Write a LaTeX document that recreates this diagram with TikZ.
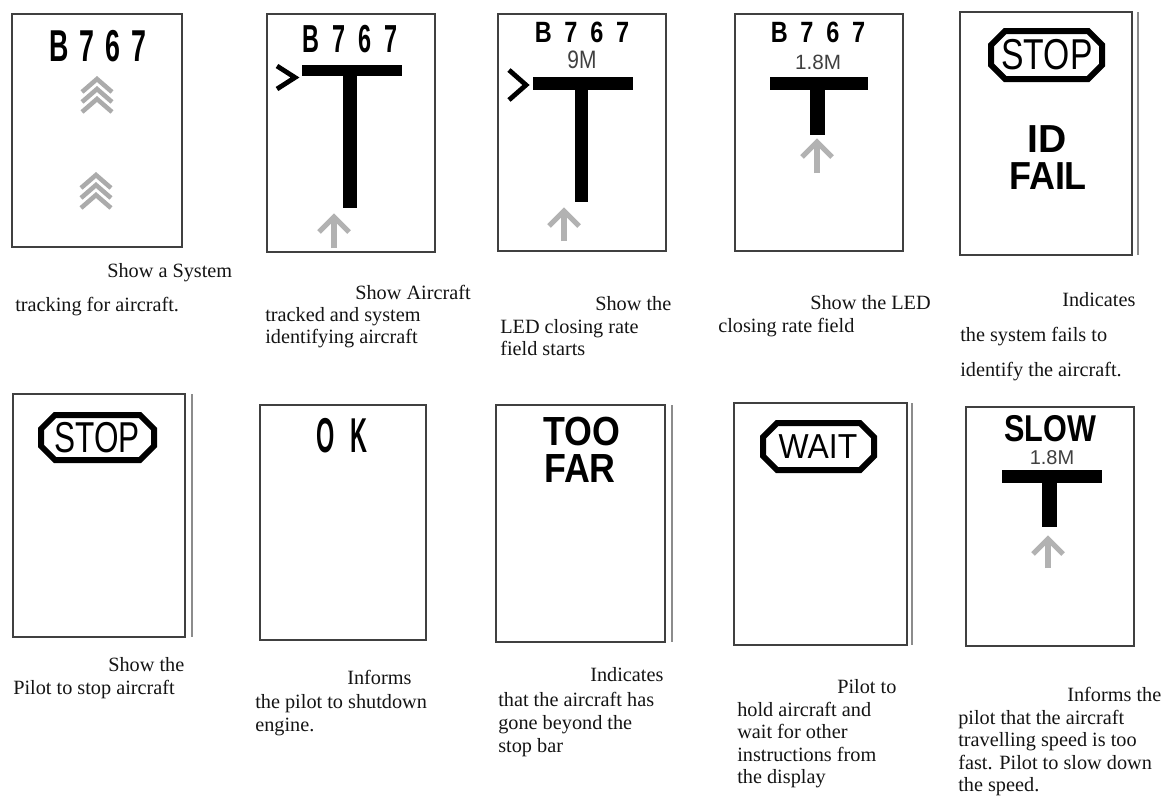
\documentclass[tikz,border=0pt]{standalone}
\usepackage{fontspec}
\usepackage{graphicx}
\setmainfont{Liberation Serif}
\newfontfamily\arialfont{Liberation Sans}
\begin{document}
\begin{tikzpicture}[x=0.75pt,y=-0.75pt,
  panelframe/.style={draw=black!75, line width=1.6pt},
  sidebar/.style={draw=black!45, line width=1.5pt},
  grayarrow/.style={draw=black!30, line width=3.8pt},
  chevgray/.style={draw=black!33, line width=3.4pt},
  blackchev/.style={draw=black, line width=3.6pt},
  tbar/.style={fill=black},
  octo/.style={draw=black, line width=4.5pt, line join=miter},
  signtxt/.style={inner sep=0pt, text=black, font=\arialfont},
  captxt/.style={anchor=base west, inner sep=0pt, text=black!92, font=\fontsize{15.2}{17}\selectfont}]
\useasboundingbox (0,0) rectangle (1165,796);
\fill[white] (0,0) rectangle (1165,796);

% ---------- frames ----------
\draw[panelframe] (12,14) rectangle (182,247);
\draw[panelframe] (267,14) rectangle (435,252);
\draw[panelframe] (498,14) rectangle (666,251);
\draw[panelframe] (735,14) rectangle (903,251);
\draw[panelframe] (960,12) rectangle (1132,255);
\draw[sidebar] (1138,12) -- (1138,255);
\draw[panelframe] (13,394) rectangle (185,637);
\draw[sidebar] (192,394) -- (192,637);
\draw[panelframe] (260,405) rectangle (426,640);
\draw[panelframe] (496,405) rectangle (665,642);
\draw[sidebar] (672,405) -- (672,642);
\draw[panelframe] (734,403) rectangle (907,645);
\draw[sidebar] (912,403) -- (912,645);
\draw[panelframe] (966,407) rectangle (1134,646);

% ---------- panel 1 ----------
\node[signtxt] (p1t) at (98,46) {\scalebox{0.6}[1]{\fontsize{33.5}{34}\selectfont\bfseries B\kern14pt 7\kern14pt 6\kern14pt 7}};
\foreach \yy in {79,89,99} \draw[chevgray] (82,\yy+13) -- (97,\yy) -- (112,\yy+13);
\foreach \yy in {175,185,195} \draw[chevgray] (81,\yy+13) -- (96,\yy) -- (111,\yy+13);

% ---------- panel 2 ----------
\node[signtxt] (p2t) at (350,39) {\scalebox{0.6}[1]{\fontsize{29.3}{30}\selectfont\bfseries B\kern16pt 7\kern16pt 6\kern16pt 7}};
\draw[blackchev] (277,66) -- (295,77.5) -- (277,89);
\fill[tbar] (302,65) rectangle (402,76);
\fill[tbar] (343,76) rectangle (357,208);
\draw[grayarrow] (334,248) -- (334,219);
\draw[grayarrow] (319,232) -- (334,217) -- (349,232);

% ---------- panel 3 ----------
\node[signtxt] (p3t) at (582,32) {\scalebox{0.8}[1]{\fontsize{22}{23}\selectfont\bfseries B\kern12pt 7\kern12pt 6\kern12pt 7}};
\node[signtxt, text=black!75] (p3d) at (582,60) {\scalebox{0.83}[1]{\fontsize{18.9}{19}\selectfont 9M}};
\draw[blackchev] (509,70) -- (526,85) -- (509,100);
\fill[tbar] (533,77) rectangle (633,90);
\fill[tbar] (575,90) rectangle (588,202);
\draw[grayarrow] (564,241) -- (564,213);
\draw[grayarrow] (549,226) -- (564,211) -- (579,226);

% ---------- panel 4 ----------
\node[signtxt] (p4t) at (818,32) {\scalebox{0.8}[1]{\fontsize{22}{23}\selectfont\bfseries B\kern12pt 7\kern12pt 6\kern12pt 7}};
\node[signtxt, text=black!75] (p4d) at (818,62) {\fontsize{15.5}{16}\selectfont 1.8M};
\fill[tbar] (770,77) rectangle (868,90);
\fill[tbar] (810,90) rectangle (825,135);
\draw[grayarrow] (817,173) -- (817,144);
\draw[grayarrow] (802,157) -- (817,142) -- (832,157);

% ---------- panel 5 ----------
\draw[octo] (1005,31) -- (1088,31) -- (1102,45) -- (1102,65) -- (1088,79) -- (1005,79) -- (991,65) -- (991,45) -- cycle;
\node[signtxt] (p5s) at (1047,55) {\scalebox{0.78}[1]{\fontsize{32.4}{33}\selectfont STOP}};
\node[signtxt] (p5a) at (1047,139) {\fontsize{29.3}{30}\selectfont\bfseries ID};
\node[signtxt] (p5b) at (1048,176) {\scalebox{0.92}[1]{\fontsize{29.3}{30}\selectfont\bfseries FAIL}};

% ---------- panel 6 ----------
\draw[octo] (55,415) -- (140,415) -- (154,429) -- (154,446) -- (140,460) -- (55,460) -- (41,446) -- (41,429) -- cycle;
\node[signtxt] (p6s) at (97,438) {\scalebox{0.73}[1]{\fontsize{32.4}{33}\selectfont STOP}};

% ---------- panel 7 ----------
\node[signtxt] (p7t) at (342,436) {\scalebox{0.48}[1]{\fontsize{36.7}{37}\selectfont\bfseries O\kern26pt K}};

% ---------- panel 8 ----------
\node[signtxt] (p8a) at (582,431) {\scalebox{0.88}[1]{\fontsize{30.5}{31}\selectfont\bfseries TOO}};
\node[signtxt] (p8b) at (580,469) {\scalebox{0.88}[1]{\fontsize{30.5}{31}\selectfont\bfseries FAR}};

% ---------- panel 9 ----------
\draw[octo] (777,423) -- (860,423) -- (874,437) -- (874,456) -- (860,470) -- (777,470) -- (763,456) -- (763,437) -- cycle;
\node[signtxt] (p9s) at (818,447) {\scalebox{0.92}[1]{\fontsize{26}{27}\selectfont WAIT}};

% ---------- panel 10 ----------
\node[signtxt] (p10t) at (1050,429) {\scalebox{0.82}[1]{\fontsize{28}{29}\selectfont\bfseries SLOW}};
\node[signtxt, text=black!75] (p10d) at (1052,458) {\fontsize{15}{16}\selectfont 1.8M};
\fill[tbar] (1002,470) rectangle (1102,483);
\fill[tbar] (1042,483) rectangle (1057,527);
\draw[grayarrow] (1048,568) -- (1048,541);
\draw[grayarrow] (1033,554) -- (1048,539) -- (1063,554);

% ---------- captions ----------
\node[captxt] (c1a) at (107,277) {Show a System};
\node[captxt] (c1b) at (15,311) {tracking for aircraft.};
\node[captxt] (c2a) at (355,299) {Show Aircraft};
\node[captxt] (c2b) at (265,321) {tracked and system};
\node[captxt] (c2c) at (265,343) {identifying aircraft};
\node[captxt] (c3a) at (595,310) {Show the};
\node[captxt] (c3b) at (500,333) {LED closing rate};
\node[captxt] (c3c) at (500,355) {field starts};
\node[captxt] (c4a) at (810,309) {Show the LED};
\node[captxt] (c4b) at (718,332) {closing rate field};
\node[captxt] (c5a) at (1062,306) {Indicates};
\node[captxt] (c5b) at (960,341) {the system fails to};
\node[captxt] (c5c) at (960,376) {identify the aircraft.};
\node[captxt] (c6a) at (108,671) {Show the};
\node[captxt] (c6b) at (13,694) {Pilot to stop aircraft};
\node[captxt] (c7a) at (347,684) {Informs};
\node[captxt] (c7b) at (255,708) {the pilot to shutdown};
\node[captxt] (c7c) at (255,731) {engine.};
\node[captxt] (c8a) at (590,681) {Indicates};
\node[captxt] (c8b) at (498,706) {that the aircraft has};
\node[captxt] (c8c) at (498,729) {gone beyond the};
\node[captxt] (c8d) at (498,752) {stop bar};
\node[captxt] (c9a) at (837,693) {Pilot to};
\node[captxt] (c9b) at (737,716) {hold aircraft and};
\node[captxt] (c9c) at (737,738) {wait for other};
\node[captxt] (c9d) at (737,761) {instructions from};
\node[captxt] (c9e) at (737,783) {the display};
\node[captxt] (c10a) at (1067,701) {Informs the};
\node[captxt] (c10b) at (958,724) {pilot that the aircraft};
\node[captxt] (c10c) at (958,746) {travelling speed is too};
\node[captxt] (c10d) at (958,769) {fast. Pilot to slow down};
\node[captxt] (c10e) at (958,791) {the speed.};
\end{tikzpicture}
\end{document}
